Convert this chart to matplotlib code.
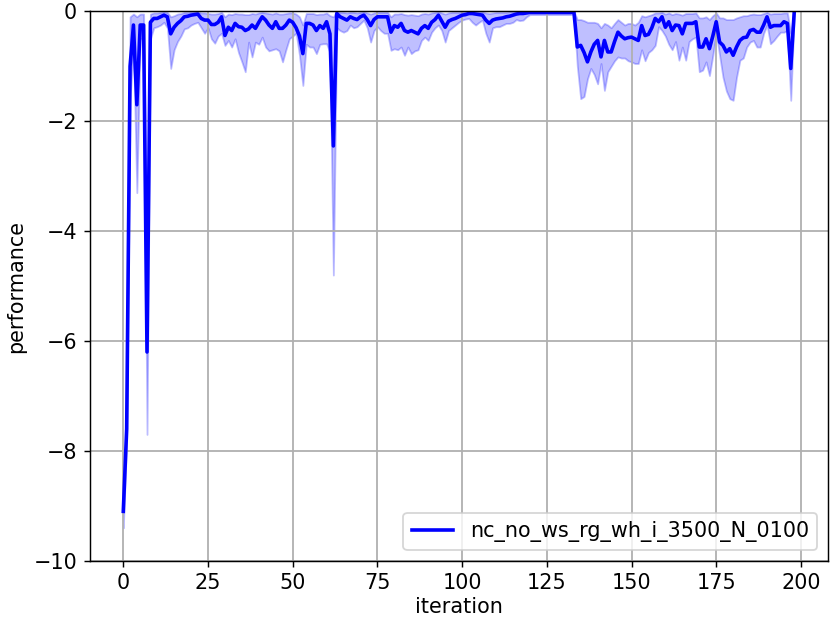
import numpy as np
import matplotlib
matplotlib.use('Agg')
import matplotlib.pyplot as plt

# mean performance per iteration
mean_perf = [
    -9.1, -7.6, -1.0, -0.25, -1.7, -0.25, -0.25, -6.2, -0.2, -0.13,
    -0.13, -0.1, -0.07, -0.1, -0.41, -0.29, -0.22, -0.17, -0.1, -0.09,
    -0.07, -0.06, -0.05, -0.13, -0.16, -0.16, -0.24, -0.24, -0.2, -0.1,
    -0.44, -0.29, -0.35, -0.22, -0.28, -0.29, -0.35, -0.32, -0.25, -0.31,
    -0.2, -0.1, -0.16, -0.25, -0.31, -0.19, -0.31, -0.31, -0.25, -0.16,
    -0.2, -0.3, -0.45, -0.77, -0.22, -0.22, -0.25, -0.35, -0.26, -0.31,
    -0.19, -0.41, -2.45, -0.04, -0.1, -0.13, -0.16, -0.1, -0.13, -0.15,
    -0.1, -0.07, -0.15, -0.26, -0.15, -0.1, -0.1, -0.1, -0.1, -0.38,
    -0.26, -0.29, -0.22, -0.35, -0.38, -0.35, -0.38, -0.41, -0.31, -0.26,
    -0.31, -0.2, -0.15, -0.07, -0.18, -0.29, -0.18, -0.15, -0.13, -0.1,
    -0.07, -0.06, -0.04, -0.04, -0.05, -0.06, -0.07, -0.16, -0.22, -0.16,
    -0.14, -0.13, -0.12, -0.1, -0.09, -0.07, -0.05, -0.04, -0.04, -0.03,
    -0.02, -0.02, -0.02, -0.02, -0.02, -0.02, -0.02, -0.02, -0.02, -0.02,
    -0.02, -0.02, -0.02, -0.01, -0.65, -0.62, -0.75, -0.92, -0.74, -0.6,
    -0.53, -0.83, -0.53, -0.74, -0.74, -0.55, -0.38, -0.45, -0.5, -0.48,
    -0.47, -0.5, -0.53, -0.26, -0.44, -0.42, -0.3, -0.13, -0.19, -0.1,
    -0.29, -0.19, -0.35, -0.25, -0.26, -0.41, -0.22, -0.22, -0.22, -0.19,
    -0.65, -0.65, -0.5, -0.68, -0.45, -0.19, -0.56, -0.62, -0.74, -0.68,
    -0.8, -0.65, -0.53, -0.48, -0.47, -0.35, -0.33, -0.38, -0.38, -0.25,
    -0.1, -0.29, -0.26, -0.26, -0.26, -0.19, -0.22, -1.04, -0.04,
]

# lower edge of the shaded band
lower_perf = [
    -9.4, -7.8, -1.6, -0.6, -3.3, -0.5, -0.5, -7.7, -0.5, -0.3,
    -0.28, -0.25, -0.2, -0.3, -1.04, -0.7, -0.55, -0.45, -0.32, -0.3,
    -0.25, -0.22, -0.2, -0.3, -0.4, -0.3, -0.5, -0.58, -0.45, -0.4,
    -0.62, -0.53, -0.65, -0.5, -0.75, -0.92, -1.1, -0.56, -0.83, -0.56,
    -0.6, -0.47, -0.65, -0.72, -0.7, -0.68, -0.72, -0.92, -0.7, -0.5,
    -0.45, -0.4, -0.8, -1.35, -0.6, -0.65, -0.65, -0.77, -0.6, -0.59,
    -0.59, -0.75, -4.8, -0.3, -0.35, -0.38, -0.35, -0.25, -0.3, -0.28,
    -0.22, -0.16, -0.3, -0.56, -0.35, -0.28, -0.35, -0.4, -0.4, -0.71,
    -0.68, -0.7, -0.65, -0.8, -0.65, -0.77, -0.72, -0.7, -0.53, -0.47,
    -0.53, -0.38, -0.3, -0.25, -0.35, -0.56, -0.35, -0.3, -0.25, -0.2,
    -0.16, -0.14, -0.13, -0.2, -0.25, -0.2, -0.16, -0.4, -0.56, -0.3,
    -0.28, -0.28, -0.25, -0.22, -0.22, -0.2, -0.15, -0.17, -0.16, -0.1,
    -0.06, -0.06, -0.06, -0.06, -0.06, -0.06, -0.06, -0.06, -0.06, -0.06,
    -0.06, -0.06, -0.06, -0.05, -1.0, -1.59, -1.55, -1.23, -1.04, -1.15,
    -1.32, -0.95, -1.44, -1.1, -1.0, -0.9, -0.83, -0.85, -0.85, -0.9,
    -0.92, -0.95, -0.95, -0.7, -0.9, -0.75, -0.7, -0.62, -0.28, -0.35,
    -0.45, -0.6, -0.7, -0.55, -0.89, -0.65, -0.89, -0.55, -0.5, -0.47,
    -1.1, -1.07, -0.92, -1.17, -0.8, -0.4, -0.8, -1.2, -1.45, -1.59,
    -1.62, -1.2, -0.89, -0.85, -0.65, -0.56, -0.53, -0.65, -0.65, -0.4,
    -0.25, -0.59, -0.53, -0.45, -0.38, -0.38, -0.35, -1.62, -0.1,
]

# upper edge of the shaded band
upper_perf = [
    -8.8, -7.4, -0.1, -0.05, -0.1, -0.05, -0.05, -4.7, -0.05, -0.03,
    -0.03, -0.02, -0.01, -0.02, -0.1, -0.08, -0.05, -0.04, -0.02, -0.02,
    -0.01, -0.01, -0.01, -0.03, -0.03, -0.04, -0.05, -0.05, -0.04, -0.02,
    -0.1, -0.05, -0.06, -0.04, -0.05, -0.05, -0.06, -0.06, -0.04, -0.05,
    -0.03, -0.02, -0.03, -0.04, -0.05, -0.03, -0.05, -0.05, -0.04, -0.03,
    -0.03, -0.05, -0.1, -0.25, -0.04, -0.04, -0.04, -0.06, -0.05, -0.05,
    -0.03, -0.08, -0.1, 0.0, -0.02, -0.02, -0.03, -0.02, -0.02, -0.03,
    -0.02, -0.01, -0.03, -0.05, -0.03, -0.02, -0.02, -0.02, -0.02, -0.1,
    -0.05, -0.05, -0.04, -0.06, -0.07, -0.06, -0.07, -0.08, -0.05, -0.04,
    -0.05, -0.03, -0.02, -0.01, -0.03, -0.05, -0.03, -0.02, -0.02, -0.02,
    -0.01, -0.01, -0.01, -0.01, -0.01, -0.01, -0.01, -0.03, -0.04, -0.03,
    -0.02, -0.02, -0.02, -0.02, -0.01, -0.01, -0.01, -0.01, -0.01, 0.0,
    0.0, 0.0, 0.0, 0.0, 0.0, 0.0, 0.0, 0.0, 0.0, 0.0,
    0.0, 0.0, 0.0, 0.0, -0.15, -0.15, -0.17, -0.2, -0.2, -0.2,
    -0.22, -0.3, -0.22, -0.25, -0.3, -0.22, -0.15, -0.2, -0.25, -0.22,
    -0.22, -0.25, -0.2, -0.08, -0.1, -0.08, -0.06, -0.03, -0.03, -0.02,
    -0.05, -0.03, -0.06, -0.04, -0.05, -0.07, -0.04, -0.04, -0.04, -0.03,
    -0.12, -0.12, -0.1, -0.15, -0.08, -0.03, -0.12, -0.12, -0.15, -0.15,
    -0.15, -0.12, -0.1, -0.08, -0.08, -0.06, -0.05, -0.06, -0.06, -0.04,
    -0.02, -0.05, -0.04, -0.04, -0.04, -0.03, -0.03, -0.4, 0.0,
]

label = 'nc_no_ws_rg_wh_i_3500_N_0100'

iterations = np.arange(len(mean_perf))

plt.rcParams['font.size'] = 11.5

fig, ax = plt.subplots(figsize=(831 / 130, 628 / 130), dpi=130)
fig.subplots_adjust(left=0.108, right=0.996, top=0.982, bottom=0.107)

ax.plot(iterations, mean_perf, color='blue', linewidth=2, label=label)
ax.fill_between(iterations, lower_perf, upper_perf, color='blue', alpha=0.25)

ax.set_ylim(-10, 0)
ax.set_xlabel('iteration', labelpad=2)
ax.set_ylabel('performance')
ax.grid(True, linewidth=1)
ax.legend(loc='lower right')

fig.savefig('out.png', dpi=130)
